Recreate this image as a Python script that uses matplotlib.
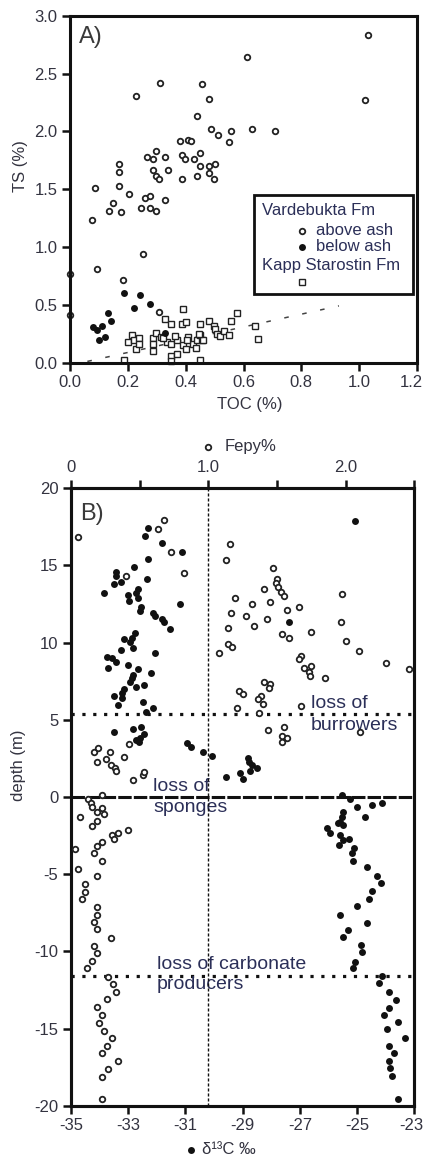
import matplotlib
matplotlib.use("Agg")
import matplotlib.pyplot as plt
from matplotlib.lines import Line2D
from matplotlib.patches import Rectangle
from matplotlib.transforms import ScaledTranslation
import numpy as np

plt.rcParams['font.family'] = ['Liberation Sans', 'DejaVu Sans']
plt.rcParams['axes.unicode_minus'] = False

# ---------------- Panel A: TS vs TOC ----------------
above_toc = [1.032, 0.611, 0.227, 0.310, 0.458, 0.481, 1.021, 0.440, 0.488, 0.511,
             0.557, 0.630, 0.709, 0.550, 0.381, 0.407, 0.417, 0.299, 0.268, 0.287,
             0.329, 0.387, 0.398, 0.428, 0.449, 0.448, 0.481, 0.500, 0.286, 0.297,
             0.309, 0.339, 0.387, 0.439, 0.481, 0.499, 0.169, 0.169, 0.169, 0.087,
             0.205, 0.258, 0.277, 0.328, 0.147, 0.136, 0.175, 0.246, 0.277, 0.299,
             0.076, 0.254, 0.093, 0.000, 0.000, 0.184, 0.307]
above_ts = [2.83, 2.645, 2.31, 2.42, 2.41, 2.28, 2.27, 2.13, 2.02, 1.97,
            2.00, 2.02, 2.00, 1.91, 1.92, 1.925, 1.92, 1.83, 1.775, 1.76,
            1.775, 1.80, 1.76, 1.76, 1.815, 1.70, 1.70, 1.72, 1.665, 1.61,
            1.585, 1.67, 1.585, 1.61, 1.64, 1.585, 1.72, 1.65, 1.53, 1.51,
            1.46, 1.42, 1.44, 1.405, 1.385, 1.31, 1.30, 1.335, 1.335, 1.31,
            1.235, 0.94, 0.81, 0.77, 0.41, 0.715, 0.44]

below_toc = [0.186, 0.241, 0.222, 0.278, 0.133, 0.142, 0.080, 0.092, 0.109, 0.100,
             0.122, 0.329]
below_ts = [0.60, 0.585, 0.475, 0.507, 0.432, 0.363, 0.31, 0.285, 0.318, 0.20,
            0.218, 0.26]

kapp_toc = [0.187, 0.213, 0.202, 0.221, 0.240, 0.228, 0.240, 0.286, 0.287, 0.287,
            0.297, 0.315, 0.328, 0.348, 0.337, 0.348, 0.369, 0.348, 0.369, 0.349,
            0.390, 0.386, 0.401, 0.392, 0.409, 0.401, 0.427, 0.438, 0.450, 0.456,
            0.436, 0.450, 0.450, 0.480, 0.498, 0.503, 0.508, 0.518, 0.531, 0.550,
            0.556, 0.579, 0.640, 0.650, 0.323, 0.363, 0.404, 0.461, 0.446]
kapp_ts = [0.02, 0.24, 0.18, 0.196, 0.21, 0.12, 0.16, 0.21, 0.16, 0.10,
           0.255, 0.225, 0.38, 0.335, 0.18, 0.16, 0.20, 0.06, 0.075, 0.015,
           0.46, 0.335, 0.35, 0.15, 0.225, 0.115, 0.16, 0.20, 0.24, 0.196,
           0.13, 0.335, 0.02, 0.363, 0.317, 0.29, 0.245, 0.228, 0.275, 0.24,
           0.36, 0.427, 0.315, 0.205, 0.21, 0.23, 0.196, 0.20, 0.248]

# trend line for the Kapp Starostin samples
trend_slope = 0.552
trend_intercept = -0.022
trend_toc_range = [0.06, 0.93]

toc_ticks = [0.0, 0.2, 0.4, 0.6, 0.8, 1.0, 1.2]
ts_ticks = [0.0, 0.5, 1.0, 1.5, 2.0, 2.5, 3.0]

# ---------------- Panel B: depth profiles ----------------
d13c_val = [-25.08, -32.30, -32.41, -31.81, -31.13, -32.32, -32.81, -33.44, -33.44, -32.35,
            -33.25, -33.51, -33.84, -33.00, -32.97, -32.74, -32.65, -32.67, -32.55, -32.59,
            -31.19, -32.12, -32.06, -31.81, -31.74, -31.53, -27.38, -32.76, -32.88, -33.14,
            -32.94, -32.82, -33.25, -32.06, -33.75, -33.58, -33.44, -33.70, -33.00, -32.65,
            -32.82, -32.88, -32.94, -32.20, -32.73, -32.46, -33.14, -33.21, -33.23, -33.49,
            -33.35, -32.47, -32.37, -32.12, -33.49, -32.82, -32.55, -32.46, -32.58, -32.72,
            -32.62, -30.95, -30.80, -30.37, -30.08, -29.58, -29.09, -29.00, -28.80, -28.77,
            -28.68, -28.51, -28.74,
            -25.53, -25.24, -24.99, -24.49, -24.14, -24.72, -25.50, -25.53, -25.59, -25.48,
            -25.65, -26.04, -25.94, -25.59, -25.48, -25.30, -25.62, -25.10, -25.19, -25.13,
            -24.66, -24.29, -24.17, -24.49, -24.57, -24.99, -25.59, -24.64, -25.33, -25.50,
            -24.87, -24.84, -25.07, -25.15, -24.14, -24.22, -23.87, -23.64, -23.87, -24.06,
            -23.56, -23.96, -23.32, -23.87, -23.71, -23.87, -23.85, -23.79, -23.56]
d13c_depth = [17.90, 17.41, 16.93, 16.44, 15.89, 15.42, 14.92, 14.56, 14.34, 14.12,
              13.91, 13.78, 13.20, 13.09, 12.70, 13.20, 13.48, 12.91, 12.33, 12.07,
              12.50, 11.90, 11.75, 11.53, 11.32, 10.88, 11.36, 10.65, 10.32, 10.24,
              10.06, 9.63, 9.50, 9.31, 9.09, 8.99, 8.77, 8.34, 8.55, 8.27,
              7.90, 7.73, 7.47, 8.01, 7.15, 7.26, 7.00, 6.72, 6.39, 6.56,
              5.96, 6.14, 5.49, 5.75, 4.23, 4.41, 4.52, 4.06, 3.80, 3.67,
              3.58, 3.48, 3.26, 2.93, 2.68, 1.32, 1.54, 1.17, 2.55, 2.29,
              2.07, 1.86, 1.68,
              0.13, -0.15, -0.63, -0.52, -0.37, -1.28, -0.95, -1.28, -1.60, -1.81,
              -1.70, -2.03, -2.31, -2.46, -2.79, -2.74, -3.11, -3.32, -3.61, -4.13,
              -4.56, -5.12, -5.59, -6.07, -6.61, -7.06, -7.65, -8.14, -8.62, -9.09,
              -9.59, -10.06, -10.67, -11.10, -11.60, -12.07, -12.61, -13.15, -13.69, -14.12,
              -14.60, -15.05, -15.63, -16.13, -16.61, -17.08, -17.58, -18.08, -19.59]

fepy_val = [0.049, 0.675, 0.631, 0.728, 0.821, 0.398, 1.158, 1.129, 1.474, 1.503,
            1.493, 1.510, 1.527, 1.551, 1.406, 1.195, 1.449, 1.316, 1.165, 1.275,
            1.430, 1.576, 1.661, 1.333, 1.146, 1.976, 1.964, 2.003, 2.098, 2.294,
            2.462, 1.534, 1.590, 1.748, 1.146, 1.175, 1.075, 1.675, 1.661, 1.697,
            1.746, 1.736, 1.741, 1.850, 1.406, 1.449, 1.444, 1.226, 1.255, 1.381,
            1.364, 1.401, 1.211, 1.675, 1.372, 1.432, 1.551, 1.539, 1.576, 1.534,
            2.105, 0.170, 0.199, 0.187, 0.255, 0.286, 0.291, 0.320, 0.328, 0.388,
            0.422, 0.454, 0.527, 0.534, 0.223,
            0.126, 0.146, 0.151, 0.223, 0.187, 0.243, 0.066, 0.187, 0.151, 0.413,
            0.345, 0.296, 0.315, 0.223, 0.187, 0.029, 0.170, 0.223, 0.049, 0.187,
            0.102, 0.102, 0.078, 0.187, 0.187, 0.170, 0.187, 0.291, 0.170, 0.187,
            0.151, 0.117, 0.272, 0.308, 0.328, 0.260, 0.187, 0.223, 0.204, 0.243,
            0.296, 0.260, 0.223, 0.345, 0.272, 0.223, 0.223]
fepy_depth = [16.87, 17.93, 17.36, 15.85, 14.49, 14.34, 16.37, 15.35, 14.86, 14.12,
              13.84, 13.63, 13.30, 13.04, 13.46, 12.87, 12.65, 12.48, 11.90, 11.73,
              11.53, 12.12, 12.29, 11.10, 10.93, 13.15, 11.32, 10.11, 9.46, 8.70,
              8.29, 10.54, 10.32, 10.71, 9.91, 9.70, 9.31, 9.14, 8.92, 8.34,
              8.49, 8.08, 7.82, 7.69, 7.47, 7.32, 7.04, 6.89, 6.67, 6.56,
              6.33, 6.04, 5.75, 5.90, 5.46, 4.34, 4.52, 3.97, 3.80, 3.54,
              4.19, 2.93, 3.19, 2.25, 2.46, 2.93, 2.07, 1.86, 1.68, 2.61,
              3.41, 1.10, 1.43, 1.60, 0.13,
              -0.15, -0.41, -0.63, -0.73, -0.95, -1.12, -1.32, -1.53, -1.88, -2.14,
              -2.35, -2.46, -2.72, -2.90, -3.17, -3.39, -3.65, -4.15, -4.64, -5.12,
              -5.64, -6.14, -6.63, -7.15, -7.65, -8.10, -8.57, -9.12, -9.65, -10.13,
              -10.63, -11.10, -11.64, -12.12, -12.61, -13.11, -13.63, -14.12, -14.66, -15.14,
              -15.63, -16.13, -16.61, -17.08, -17.64, -18.12, -19.59]

d13c_ticks = [-35, -33, -31, -29, -27, -25, -23]
fepy_major = [0.0, 1.0, 2.0]
fepy_major_labels = ["0", "1.0", "2.0"]
fepy_minor = [0.5, 1.5, 2.5]
depth_ticks = [20, 15, 10, 5, 0, -5, -10, -15, -20]

event_depths = {"burrowers": 5.4, "sponges": 0.0, "carbonate": -11.6}
fepy_reference = 1.0

# ---------------- styling ----------------
INK = "#111111"
LABEL = "#333340"
NOTE = "#2b2f58"
SPINE_W = 2.2
TICK_FS = 12

fig = plt.figure(figsize=(4.25, 11.64), dpi=100)


def style_axes(ax):
    for s in ax.spines.values():
        s.set_linewidth(SPINE_W)
        s.set_color(INK)
    ax.tick_params(direction="out", length=5.5, width=1.8, color=INK,
                   labelsize=TICK_FS, labelcolor=LABEL)


def nudge_last_xlabel(ax, dx_px):
    lab = ax.get_xticklabels()[-1]
    lab.set_transform(lab.get_transform() +
                      ScaledTranslation(dx_px / 100, 0, fig.dpi_scale_trans))


open_kw = dict(marker="o", linestyle="none", mfc="white", mec="#222222",
               ms=4.0, mew=1.3)
fill_kw = dict(marker="o", linestyle="none", color=INK, ms=5.0, mew=0)
square_kw = dict(marker="s", linestyle="none", mfc="white", mec="#222222",
                 ms=4.6, mew=1.0)

# ---- Panel A ----
axA = fig.add_axes([70 / 425, 1 - 362.7 / 1164, 347 / 425, 347 / 1164])
style_axes(axA)
axA.set_xlim(0, 1.2)
axA.set_ylim(0, 3.0)
axA.set_xticks(toc_ticks)
axA.set_xticklabels([f"{t:.1f}" for t in toc_ticks])
axA.set_yticks(ts_ticks)
axA.set_yticklabels([f"{t:.1f}" for t in ts_ticks])
nudge_last_xlabel(axA, -6)

tx = np.array(trend_toc_range)
axA.plot(tx, trend_slope * tx + trend_intercept, color="#444444", lw=1.1,
         linestyle=(0, (3, 9)))
axA.plot(kapp_toc, kapp_ts, clip_on=False, **square_kw)
axA.plot(above_toc, above_ts, clip_on=False, **open_kw)
axA.plot(below_toc, below_ts, clip_on=False, **fill_kw)

axA.text(0.026, 0.94, "A)", transform=axA.transAxes, fontsize=17,
         color="#3a3a3a", va="center", ha="left")

# legend box
axA.add_patch(Rectangle((0.531, 0.197), 0.4566, 0.2863, transform=axA.transAxes,
                        fill=False, lw=2.0, ec=INK, zorder=5))
leg_fs = 12
axA.text(0.5525, 0.438, "Vardebukta Fm", transform=axA.transAxes, fontsize=leg_fs,
         color=NOTE, va="center", ha="left")
axA.text(0.709, 0.380, "above ash", transform=axA.transAxes, fontsize=leg_fs,
         color=NOTE, va="center", ha="left")
axA.text(0.709, 0.334, "below ash", transform=axA.transAxes, fontsize=leg_fs,
         color=NOTE, va="center", ha="left")
axA.text(0.5525, 0.2787, "Kapp Starostin Fm", transform=axA.transAxes,
         fontsize=leg_fs, color=NOTE, va="center", ha="left")
axA.add_line(Line2D([0.6677], [0.380], transform=axA.transAxes, **open_kw))
axA.add_line(Line2D([0.6677], [0.334], transform=axA.transAxes, **fill_kw))
axA.add_line(Line2D([0.6677], [0.2317], transform=axA.transAxes, **square_kw))

fig.text(250 / 425, 1 - 404 / 1164, "TOC (%)", fontsize=12, color=LABEL,
         ha="center", va="center")
fig.text(20 / 425, 1 - 166.5 / 1164, "TS (%)", fontsize=12, color=LABEL,
         ha="center", va="center", rotation=90)

# ---- Panel B ----
axB = fig.add_axes([71 / 425, 1 - 1105.7 / 1164, 343.3 / 425, 617.4 / 1164])
style_axes(axB)
axB.set_xlim(-35, -23)
axB.set_ylim(-20, 20)
axB.set_xticks(d13c_ticks)
axB.set_xticklabels([str(t) for t in d13c_ticks])
axB.set_yticks(depth_ticks)
axB.set_yticklabels([str(t) for t in depth_ticks])
nudge_last_xlabel(axB, -3)

axF = axB.twiny()
axF.set_xlim(0, 2.5)
for s in axF.spines.values():
    s.set_linewidth(SPINE_W)
    s.set_color(INK)
axF.set_xticks(fepy_major)
axF.set_xticklabels(fepy_major_labels)
axF.set_xticks(fepy_minor, minor=True)
axF.tick_params(which="both", direction="out", length=6, width=1.8, color=INK,
                labelsize=TICK_FS, labelcolor=LABEL)

# reference lines
axF.axvline(fepy_reference, color=INK, lw=1.0, linestyle=(0, (2.2, 1.4)), zorder=1)
axB.axhline(event_depths["sponges"], color=INK, lw=2.2,
            linestyle=(0, (4.4, 0.7)), zorder=1)
for key in ("burrowers", "carbonate"):
    axB.axhline(event_depths[key], color=INK, lw=2.3,
                linestyle=(0, (1.0, 2.4)), zorder=1)

axB.plot(d13c_val, d13c_depth, clip_on=False, zorder=3, **fill_kw)
axF.plot(fepy_val, fepy_depth, clip_on=False, zorder=3, **open_kw)

note_fs = 14
axB.text(-26.62, 6.07, "loss of", fontsize=note_fs, color=NOTE, va="center", ha="left")
axB.text(-26.62, 4.66, "burrowers", fontsize=note_fs, color=NOTE, va="center", ha="left")
axB.text(-32.12, 0.67, "loss of", fontsize=note_fs, color=NOTE, va="center", ha="left")
axB.text(-32.12, -0.67, "sponges", fontsize=note_fs, color=NOTE, va="center", ha="left")
axB.text(-32.0, -10.84, "loss of carbonate", fontsize=note_fs, color=NOTE,
         va="center", ha="left")
axB.text(-32.0, -12.18, "producers", fontsize=note_fs, color=NOTE, va="center", ha="left")

axB.text(0.026, 0.958, "B)", transform=axB.transAxes, fontsize=17,
         color="#3a3a3a", va="center", ha="left")

# axis titles with their symbol keys
fig.add_artist(Line2D([208.3 / 425], [1 - 446.7 / 1164], transform=fig.transFigure,
                      **open_kw))
fig.text(225 / 425, 1 - 446.7 / 1164, "Fepy%", fontsize=12, color=LABEL,
         ha="left", va="center")
fig.add_artist(Line2D([191 / 425], [1 - 1150 / 1164], transform=fig.transFigure,
                      **fill_kw))
fig.text(201.7 / 425, 1 - 1150 / 1164, "δ¹³C ‰", fontsize=12, color=LABEL,
         ha="left", va="center")
fig.text(18 / 425, 1 - 765 / 1164, "depth (m)", fontsize=12, color=LABEL,
         ha="center", va="center", rotation=90)

fig.savefig("out.png", dpi=100)
